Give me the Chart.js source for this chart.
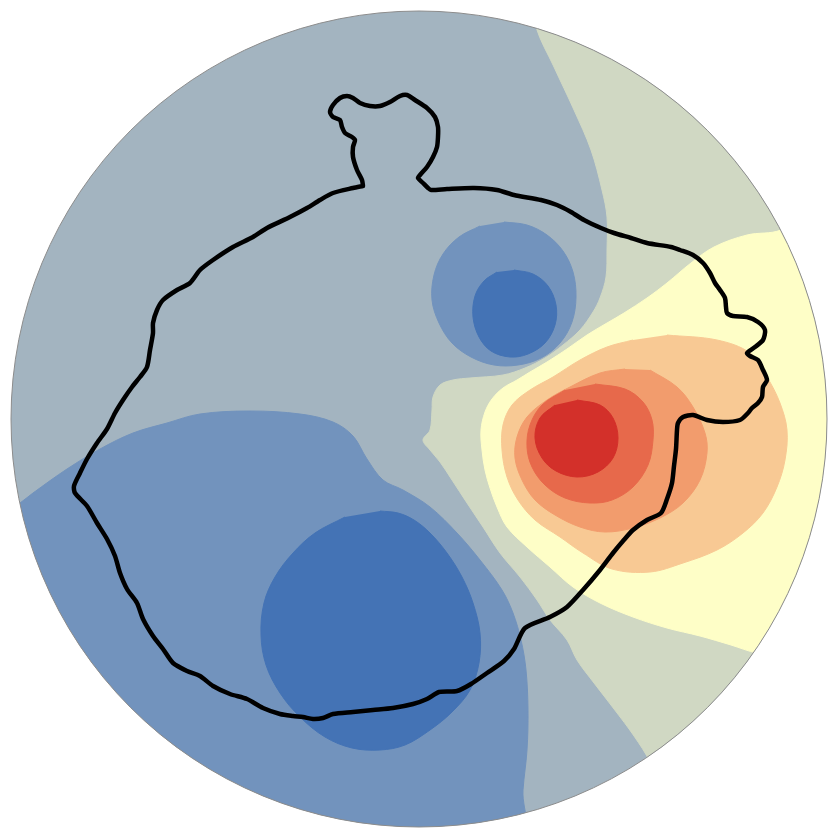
<!DOCTYPE html>
<html>
<head>
<meta charset="utf-8">
<script src="https://cdn.jsdelivr.net/npm/chart.js@4"></script>
<style>
  html, body { margin: 0; padding: 0; background: #ffffff; }
  #wrap { width: 828px; height: 832px; }
</style>
</head>
<body>
<div id="wrap"><canvas id="field"></canvas></div>
<script>
// ---- Contour bands of the field, as closed boundaries in map units ----
const fieldBase = [[-20,-20],[850,-20],[850,850],[-20,850]];

const lowBlueBand = [[-20,530],[20,503],[33,493],[67,469],[100,449],[133,433],[167,423],[200,414],[250,411],[300,414],[333,422],[353,436],[367,459],[383,480],[403,490],[430,507],[457,533],[480,560],[502,590],[513,613],[521,640],[526,670],[528,710],[527,750],[523,790],[520,850],[-20,850]];

const lowBlueCore = [[380,511],[398,513],[414,520],[430,533],[447,553],[462,577],[473,603],[480,633],[479,663],[470,690],[452,712],[430,730],[405,745],[380,750],[352,748],[325,737],[300,717],[280,693],[266,665],[261,635],[264,603],[275,577],[293,553],[315,533],[345,517]];

const neutralBand = [[528,-20],[536,27],[554,67],[574,110],[591,150],[602,190],[607,217],[607,250],[606,277],[600,298],[593,312],[580,330],[563,345],[545,358],[525,368],[503,375],[470,378],[453,380],[440,385],[433,397],[432,410],[430,430],[423,440],[430,450],[440,462],[452,480],[467,503],[483,527],[500,553],[520,577],[537,600],[550,620],[567,640],[577,660],[594,683],[614,709],[634,736],[650,762],[670,810],[690,860],[860,860],[860,-20]];

const upBlueBand = [[504,222],[527,225],[547,235],[563,251],[573,272],[576,297],[572,322],[560,343],[541,358],[518,365],[494,365],[471,357],[452,343],[439,323],[432,300],[434,275],[443,254],[459,237],[480,226]];

const upBlueCore = [[514,270],[533,274],[548,286],[556,305],[555,325],[545,343],[528,354],[510,357],[491,351],[479,337],[473,317],[475,296],[484,281],[497,272]];

const yellowBand = [[860,190],[781,230],[747,235],[714,247],[691,263],[667,283],[647,298],[624,313],[607,323],[587,335],[567,349],[547,362],[530,372],[517,380],[503,388],[492,399],[485,412],[481,430],[482,450],[485,470],[490,488],[497,507],[507,527],[527,547],[550,567],[573,587],[600,603],[633,617],[667,628],[700,636],[731,645],[757,653],[860,670]];

const peachBand = [[667,335],[717,340],[750,353],[767,377],[780,403],[787,430],[785,460],[777,487],[763,513],[743,533],[717,550],[683,563],[650,572],[612,569],[583,553],[560,537],[535,520],[518,500],[507,477],[502,450],[503,425],[512,405],[530,390],[553,377],[580,360],[607,347],[633,340]];

const salmonBand = [[650,370],[677,387],[693,407],[705,433],[707,453],[700,480],[683,503],[660,518],[633,528],[605,532],[580,527],[555,515],[535,500],[522,480],[515,458],[517,437],[527,417],[547,400],[570,387],[600,373],[625,369]];

const orangeBand = [[595,384],[625,389],[643,402],[652,420],[653,440],[648,465],[633,487],[612,500],[590,503],[565,498],[545,485],[532,467],[527,447],[530,425],[542,405],[565,390]];

const redCore = [[577,400],[600,405],[613,418],[618,438],[613,458],[598,472],[577,477],[556,471],[542,458],[535,438],[540,418],[555,405]];

// ---- Boundary line drawn over the field ----
const coastline = [[363,186],[353,188],[333,193],[320,200],[307,208],[290,217],[267,228],[253,237],[233,247],[213,260],[200,270],[190,283],[177,290],[163,300],[157,310],[153,323],[153,333],[150,350],[147,367],[140,377],[132,387],[123,400],[115,413],[107,429],[97,443],[87,459],[80,473],[74,486],[75,493],[87,506],[97,523],[107,539],[115,556],[120,573],[127,589],[137,603],[143,619],[153,636],[163,649],[173,663],[187,671],[200,676],[213,686],[230,694],[247,699],[263,708],[280,714],[293,716],[303,717],[313,719],[323,718],[333,714],[353,712],[373,710],[393,708],[413,704],[427,699],[439,692],[457,691],[471,684],[487,673],[504,661],[514,649],[525,628],[550,617],[567,607],[583,590],[600,570],[613,553],[623,541],[633,530],[647,520],[661,513],[667,499],[672,483],[674,466],[676,449],[677,430],[678,423],[683,417],[693,415],[707,420],[723,422],[740,420],[748,413],[752,408],[758,403],[762,397],[763,387],[767,380],[763,370],[758,360],[750,356],[747,353],[755,347],[763,340],[765,330],[758,322],[747,317],[733,316],[727,313],[726,307],[725,298],[720,290],[715,283],[710,273],[703,263],[693,255],[680,250],[671,247],[647,243],[631,238],[614,233],[601,228],[584,220],[571,212],[557,205],[541,200],[514,195],[497,190],[474,188],[447,189],[431,190],[428,188],[423,183],[418,178],[420,175],[427,167],[433,157],[437,147],[438,137],[438,127],[435,117],[427,108],[415,100],[407,95],[400,96],[390,102],[380,106],[370,106],[360,103],[353,98],[347,96],[340,98],[333,105],[330,112],[333,117],[340,120],[342,127],[345,133],[352,137],[355,140],[353,147],[353,157],[357,170],[362,180],[363,186]];

// Band order from bottom to top, with its fill colour
const bandShapes = [fieldBase, lowBlueBand, lowBlueCore, neutralBand, upBlueBand, upBlueCore, yellowBand, peachBand, salmonBand, orangeBand, redCore];
const bandColors = ['#A3B4C0', '#7293BD', '#4473B5', '#D0D8C3', '#7293BD', '#4473B5', '#FEFEC7', '#F8C994', '#F29C6D', '#E7694B', '#D3302A'];

// Circular domain of the map
const domain = { cx: 419, cy: 419, r: 408 };

const toPoints = arr => arr.map(([x, y]) => ({ x, y }));

const datasets = bandShapes.map((shape, i) => ({
  data: toPoints(shape),
  showLine: true,
  fill: 'shape',
  backgroundColor: bandColors[i],
  borderColor: bandColors[i],
  borderWidth: 1,
  pointRadius: 0,
  tension: 0.35,
  order: 100 - i
}));

datasets.push({
  data: toPoints(coastline),
  showLine: true,
  fill: false,
  borderColor: '#000000',
  borderWidth: 4.5,
  borderJoinStyle: 'round',
  borderCapStyle: 'round',
  pointRadius: 0,
  tension: 0.25,
  order: 0
});

// Clip everything to the disc and trace its rim
const discClip = {
  id: 'discClip',
  beforeDatasetsDraw(chart) {
    const { ctx, scales: { x, y } } = chart;
    const cx = x.getPixelForValue(domain.cx);
    const cy = y.getPixelForValue(domain.cy);
    const r = x.getPixelForValue(domain.cx + domain.r) - cx;
    ctx.save();
    ctx.beginPath();
    ctx.arc(cx, cy, r, 0, Math.PI * 2);
    ctx.clip();
  },
  afterDatasetsDraw(chart) {
    const { ctx, scales: { x, y } } = chart;
    ctx.restore();
    const cx = x.getPixelForValue(domain.cx);
    const cy = y.getPixelForValue(domain.cy);
    const r = x.getPixelForValue(domain.cx + domain.r) - cx;
    ctx.save();
    ctx.beginPath();
    ctx.arc(cx, cy, r, 0, Math.PI * 2);
    ctx.lineWidth = 1;
    ctx.strokeStyle = '#8c8c8c';
    ctx.stroke();
    ctx.restore();
  }
};

new Chart(document.getElementById('field'), {
  type: 'scatter',
  data: { datasets },
  options: {
    responsive: true,
    maintainAspectRatio: false,
    animation: false,
    layout: { padding: 0 },
    plugins: { legend: { display: false }, tooltip: { enabled: false } },
    events: [],
    scales: {
      x: { type: 'linear', min: 0, max: 828, display: false },
      y: { type: 'linear', min: 0, max: 832, reverse: true, display: false }
    }
  },
  plugins: [discClip]
});
</script>
</body>
</html>
